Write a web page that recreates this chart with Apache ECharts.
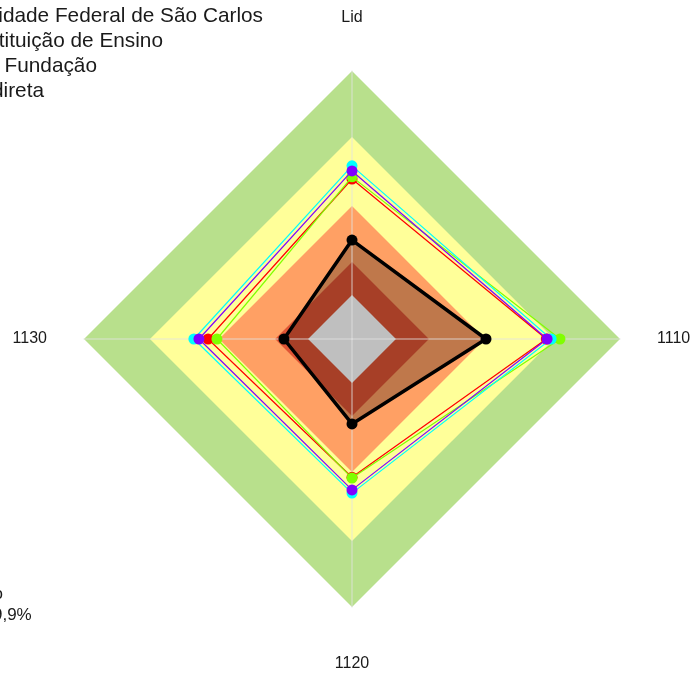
<!DOCTYPE html>
<html>
<head>
<meta charset="utf-8">
<script src="https://cdn.jsdelivr.net/npm/echarts@6/dist/echarts.min.js"></script>
<style>
html,body{margin:0;padding:0;background:#fff;}
#chart{width:696px;height:673px;}
</style>
</head>
<body>
<div id="chart"></div>
<script>
// ---- data ----
const categories = ['Lid', '1110', '1120', '1130'];
const bandLevels = [100, 75.4, 49.6, 28.7, 16.4];
const seriesNames = ['Universidade Federal de São Carlos', 'Instituição de Ensino', 'Fundação', 'Administração Indireta'];
const redValues = [59.7, 72.5, 51.6, 53.7];
const greenValues = [60.5, 77.6, 51.9, 50.4];
const cyanValues = [64.6, 74.3, 57.5, 59.0];
const purpleValues = [62.7, 72.8, 56.3, 57.1];
const overallValues = [36.9, 50.0, 31.7, 25.4];
const noteLines = ['Índice médio', '40% a 49,9%'];

// ---- styles ----
const bandColors = ['#b8e08c', '#ffff99', '#ffa064', '#df5535', '#ffffff'];
const seriesColors = ['#ff0000', '#80ff00', '#00ffff', '#8000ff'];
const FONT = '"Liberation Sans", Arial, sans-serif';

// ECharts places indicators counter-clockwise; reorder so Lid=top, 1110=right, 1120=bottom, 1130=left
const order = [0, 3, 2, 1];
const reorder = arr => order.map(i => arr[i]);

const chart = echarts.init(document.getElementById('chart'), null, {renderer: 'canvas'});

const series = [];
bandLevels.forEach((lv, i) => {
  series.push({
    type: 'radar', z: 1 + i * 0.01, silent: true,
    symbol: 'none',
    lineStyle: {width: 0, opacity: 0},
    areaStyle: {color: bandColors[i], opacity: 1},
    data: [{value: reorder(categories.map(() => lv))}]
  });
});
series.push({
  type: 'radar', z: 3, silent: true, symbol: 'none',
  lineStyle: {width: 0, opacity: 0},
  areaStyle: {color: 'rgba(0,0,0,0.25)', opacity: 1},
  data: [{value: reorder(overallValues)}]
});
const colored = [redValues, greenValues, cyanValues, purpleValues];
colored.forEach((vals, i) => {
  series.push({
    type: 'radar', name: seriesNames[i], z: 5 + i * 0.01,
    symbol: 'circle', symbolSize: 11,
    itemStyle: {color: seriesColors[i]},
    lineStyle: {color: seriesColors[i], width: 1.2},
    data: [{value: reorder(vals), name: seriesNames[i]}]
  });
});
series.push({
  type: 'radar', name: 'Geral', z: 6,
  symbol: 'circle', symbolSize: 11,
  itemStyle: {color: '#000'},
  lineStyle: {color: '#000', width: 3.5},
  data: [{value: reorder(overallValues), name: 'Geral'}]
});

const graphics = [];
const legendRight = [263, 163, 97, 44];
const legendY = [16.5, 41, 66, 91];
seriesNames.forEach((n, i) => {
  graphics.push({type: 'text', x: legendRight[i], y: legendY[i],
    style: {text: n, font: '20.8px ' + FONT, fill: '#1a1a1a', textAlign: 'right', textVerticalAlign: 'middle'}});
});
const noteRight = [3, 31.7];
const noteY = [594, 615.5];
noteLines.forEach((t, i) => {
  graphics.push({type: 'text', x: noteRight[i], y: noteY[i],
    style: {text: t, font: '17px ' + FONT, fill: '#1a1a1a', textAlign: 'right', textVerticalAlign: 'middle'}});
});

chart.setOption({
  animation: false,
  backgroundColor: '#fff',
  radar: {
    z: 4,
    center: [352, 339],
    radius: 268,
    shape: 'polygon',
    startAngle: 90,
    splitNumber: 1,
    nameGap: 37,
    axisName: {color: '#1a1a1a', fontSize: 16, fontFamily: FONT, padding: [12, 0, 8, 0]},
    indicator: reorder(categories).map(c => ({name: c, min: 0, max: 100})),
    axisLine: {lineStyle: {color: 'rgba(225,225,225,0.55)', width: 1.5}},
    splitLine: {show: false},
    splitArea: {show: false},
    axisTick: {show: false},
    axisLabel: {show: false}
  },
  series: series,
  graphic: graphics
});
</script>
</body>
</html>
